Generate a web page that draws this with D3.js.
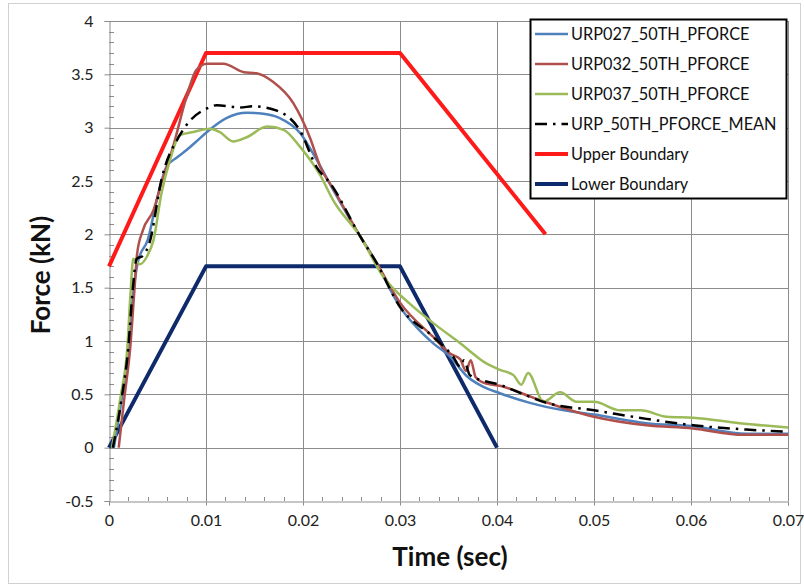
<!DOCTYPE html>
<html><head><meta charset="utf-8">
<script src="https://cdn.jsdelivr.net/npm/d3@7/dist/d3.min.js"></script>
<style>body{margin:0;background:#fff}svg{display:block}</style>
</head><body>
<svg id="c" width="804" height="588"></svg>
<script>
// ---- data ----
const xTicks = [0,0.01,0.02,0.03,0.04,0.05,0.06,0.07];
const yTicks = [-0.5,0,0.5,1,1.5,2,2.5,3,3.5,4];
const seriesNames = ["URP027_50TH_PFORCE","URP032_50TH_PFORCE","URP037_50TH_PFORCE","URP_50TH_PFORCE_MEAN","Upper Boundary","Lower Boundary"];
const urp027 = [[0.0005,0],[0.0013,0.45],[0.002,0.95],[0.0025,1.45],[0.003,1.75],[0.004,1.95],[0.005,2.35],[0.0059,2.63],[0.007,2.72],[0.008,2.79],[0.009,2.87],[0.0101,2.96],[0.0121,3.09],[0.0142,3.14],[0.0159,3.13],[0.0176,3.09],[0.0197,2.95],[0.0214,2.7],[0.0231,2.42],[0.0259,1.98],[0.0276,1.73],[0.029,1.48],[0.030,1.32],[0.0317,1.13],[0.0334,0.98],[0.0352,0.85],[0.0369,0.67],[0.0386,0.57],[0.0403,0.51],[0.0434,0.42],[0.0469,0.35],[0.05,0.31],[0.0554,0.23],[0.0602,0.2],[0.0657,0.13],[0.07,0.13]];
const urp032 = [[0.001,0],[0.0016,0.48],[0.0022,0.95],[0.0026,1.45],[0.0029,1.82],[0.0035,2.04],[0.0046,2.23],[0.0054,2.48],[0.0066,2.82],[0.008,3.29],[0.009,3.54],[0.0101,3.6],[0.0118,3.6],[0.0139,3.52],[0.0152,3.51],[0.0169,3.43],[0.019,3.23],[0.0207,2.91],[0.0218,2.63],[0.0231,2.43],[0.0259,1.98],[0.0276,1.73],[0.030,1.36],[0.0334,1.04],[0.0352,0.88],[0.0362,0.83],[0.0368,0.72],[0.0373,0.82],[0.0378,0.66],[0.0389,0.6],[0.0403,0.58],[0.0434,0.48],[0.0469,0.37],[0.05,0.29],[0.0554,0.21],[0.0602,0.18],[0.0654,0.12],[0.07,0.12]];
const urp037 = [[0.0003,0],[0.0012,0.48],[0.0019,0.95],[0.0022,1.42],[0.0025,1.77],[0.0032,1.72],[0.0039,1.79],[0.0046,1.95],[0.0054,2.38],[0.0063,2.7],[0.0073,2.93],[0.0087,2.96],[0.0104,2.99],[0.0114,2.96],[0.0128,2.87],[0.0142,2.91],[0.0163,3.01],[0.018,2.98],[0.0197,2.82],[0.0218,2.55],[0.0231,2.32],[0.0259,1.98],[0.0283,1.6],[0.031,1.35],[0.0334,1.17],[0.0362,0.98],[0.0389,0.79],[0.0403,0.73],[0.0417,0.68],[0.0425,0.59],[0.0432,0.7],[0.0448,0.43],[0.0465,0.52],[0.0482,0.43],[0.05,0.43],[0.0527,0.35],[0.0548,0.35],[0.0575,0.29],[0.0602,0.28],[0.065,0.23],[0.07,0.19]];
const urpMean = [[0.0004,0],[0.0013,0.46],[0.002,0.95],[0.0024,1.43],[0.00285,1.77],[0.0035,1.8],[0.0042,1.93],[0.0054,2.51],[0.0073,2.93],[0.0084,3.07],[0.0101,3.18],[0.0111,3.21],[0.0135,3.19],[0.0149,3.2],[0.0173,3.16],[0.0197,2.97],[0.0214,2.63],[0.0228,2.48],[0.0259,1.98],[0.0276,1.73],[0.030,1.32],[0.0334,1.04],[0.0355,0.85],[0.0362,0.76],[0.0366,0.82],[0.0372,0.68],[0.0389,0.62],[0.0403,0.59],[0.0417,0.54],[0.0451,0.42],[0.05,0.35],[0.0554,0.27],[0.0602,0.21],[0.0657,0.17],[0.07,0.15]];
const upperBound = [[0,1.7],[0.01,3.7],[0.03,3.7],[0.045,2.0]];
const lowerBound = [[0,0],[0.01,1.7],[0.03,1.7],[0.04,0]];

// ---- chart ----
const svg = d3.select("#c");
const m = {l:109, t:21, r:788, b:501};
const x = d3.scaleLinear().domain([0,0.07]).range([m.l,m.r]);
const y = d3.scaleLinear().domain([-0.5,4]).range([m.b,m.t]);
const font = "Lato, 'Open Sans', sans-serif";

svg.append("rect").attr("x",8.5).attr("y",3.5).attr("width",792).attr("height",580)
  .attr("fill","none").attr("stroke","#d0d0d0");

const grid = svg.append("g").attr("stroke","#8c8c8c").attr("stroke-width",1);
xTicks.forEach(t=>{ if(t>0) grid.append("line").attr("x1",Math.round(x(t))+0.5).attr("x2",Math.round(x(t))+0.5).attr("y1",m.t).attr("y2",m.b); });
yTicks.forEach(t=>{ if(t>-0.5) grid.append("line").attr("y1",Math.round(y(t))+0.5).attr("y2",Math.round(y(t))+0.5).attr("x1",m.l).attr("x2",m.r); });

// axes
const xAxis = d3.axisBottom(x).tickValues(xTicks).tickSize(4).tickPadding(9).tickFormat(d=>d3.format("")(+d.toFixed(2)));
const gx = svg.append("g").attr("transform",`translate(0,${Math.round(y(-0.5))+0.5})`).call(xAxis);
const yAxis = d3.axisLeft(y).tickValues(yTicks).tickSize(5).tickPadding(11).tickFormat(d=>String(d));
const gy = svg.append("g").attr("transform",`translate(${m.l+0.5},0)`).call(yAxis);
[gx,gy].forEach(g=>{
  g.select(".domain").attr("stroke","#8c8c8c");
  g.selectAll(".tick line").attr("stroke","#8c8c8c");
  g.selectAll("text").attr("font-family",font).attr("font-size",16).attr("fill","#222");
});
// minor ticks
const minorX = d3.range(0,0.0701,0.002).filter(v=>Math.abs(v*100-Math.round(v*100))>1e-6);
svg.append("g").selectAll("line").data(minorX).join("line")
  .attr("x1",d=>Math.round(x(d))+0.5).attr("x2",d=>Math.round(x(d))+0.5)
  .attr("y1",Math.round(y(-0.5))).attr("y2",Math.round(y(-0.5))-4).attr("stroke","#8c8c8c");
const minorY = d3.range(-0.5,4.001,0.1).filter(v=>Math.abs(v*2-Math.round(v*2))>1e-6);
svg.append("g").selectAll("line").data(minorY).join("line")
  .attr("y1",d=>Math.round(y(d))+0.5).attr("y2",d=>Math.round(y(d))+0.5)
  .attr("x1",m.l).attr("x2",m.l+5).attr("stroke","#8c8c8c");

// titles
svg.append("text").attr("x",450).attr("y",566).attr("text-anchor","middle")
  .attr("font-family",font).attr("font-weight","bold").attr("font-size",26).attr("fill","#111").text("Time (sec)");
svg.append("text").attr("transform",`translate(50,${(m.t+m.b)/2 + 14}) rotate(-90)`).attr("text-anchor","middle")
  .attr("font-family",font).attr("font-weight","bold").attr("font-size",26).attr("fill","#111").text("Force (kN)");

// lines
const line = d3.line().x(d=>x(d[0])).y(d=>y(d[1])).curve(d3.curveMonotoneX);
const straight = d3.line().x(d=>x(d[0])).y(d=>y(d[1]));
const plot = svg.append("g");
const styles = [
  {d:upperBound, c:"#ff1a1a", w:4, gen:straight},
  {d:lowerBound, c:"#0f2a6b", w:4, gen:straight},
  {d:urp027, c:"#4f81bd", w:2.5, gen:line},
  {d:urp032, c:"#b0504d", w:2.5, gen:line},
  {d:urp037, c:"#9bbb59", w:2.5, gen:line},
  {d:urpMean, c:"#000", w:2.5, gen:line, dash:"12,6,2.5,6"}
];
styles.forEach(s=>{
  plot.append("path").attr("d",s.gen(s.d)).attr("fill","none").attr("stroke",s.c)
    .attr("stroke-width",s.w).attr("stroke-linejoin","round").attr("stroke-dasharray",s.dash||null);
});

// legend
const lg = svg.append("g");
lg.append("rect").attr("x",530.5).attr("y",19.5).attr("width",256).attr("height",179)
  .attr("fill","#fff").attr("stroke","#000").attr("stroke-width",2);
const legStyles = [
  {c:"#4f81bd",w:2.5},{c:"#b0504d",w:2.5},{c:"#9bbb59",w:2.5},{c:"#000",w:2.5,dash:"12,6,2.5,6"},{c:"#ff1a1a",w:4},{c:"#0f2a6b",w:4}
];
seriesNames.forEach((n,i)=>{
  const yy = 34 + i*30;
  lg.append("line").attr("x1",535).attr("x2",568).attr("y1",yy).attr("y2",yy)
    .attr("stroke",legStyles[i].c).attr("stroke-width",legStyles[i].w).attr("stroke-dasharray",legStyles[i].dash||null);
  lg.append("text").attr("x",571).attr("y",yy+5.5).attr("font-family",font).attr("font-size",16.3).attr("fill","#111").text(n);
});
</script>
</body></html>
